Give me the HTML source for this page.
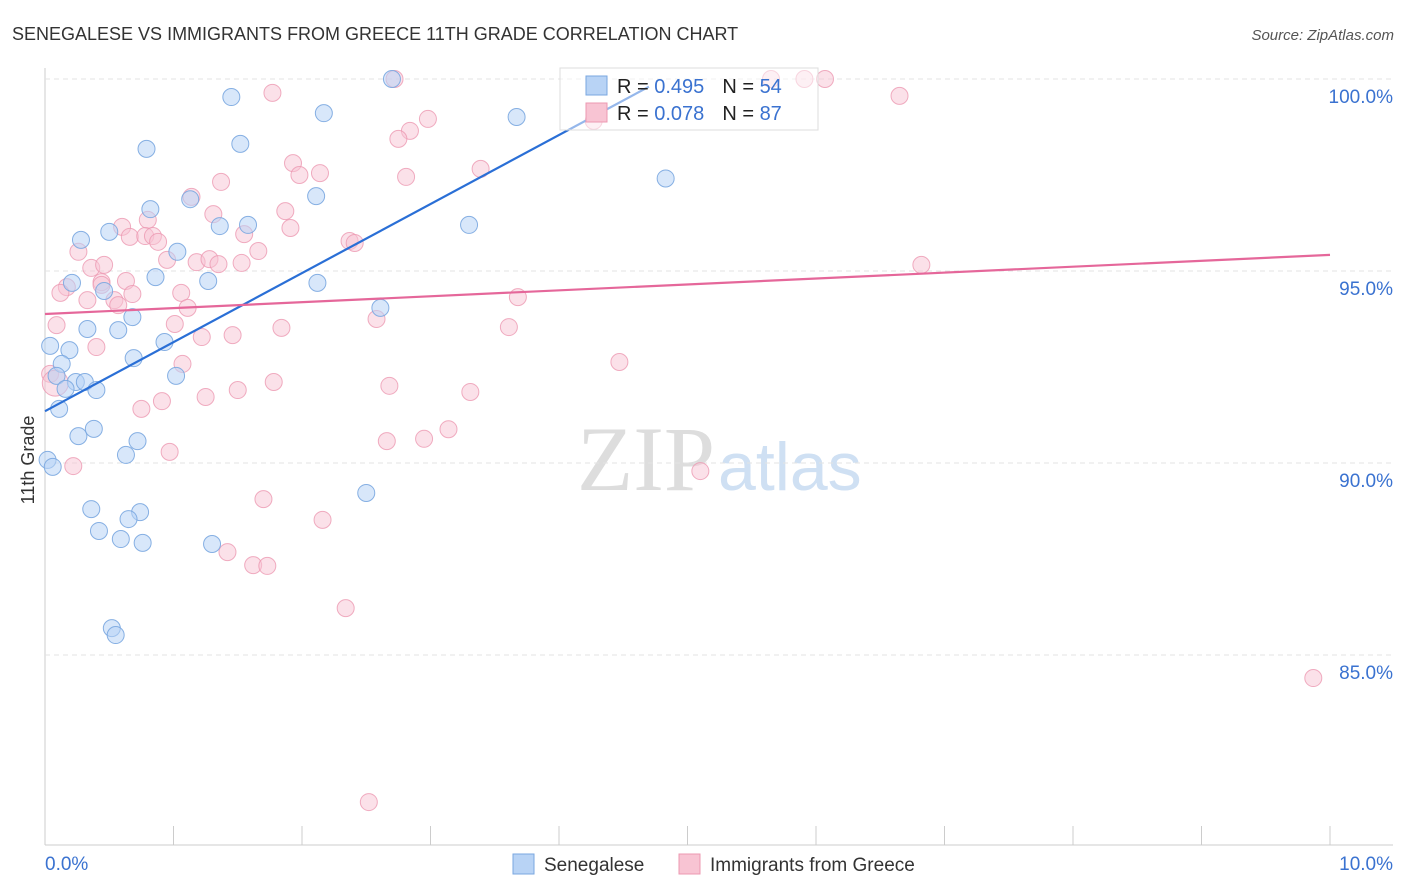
<!DOCTYPE html>
<html><head><meta charset="utf-8"><style>
body{margin:0;background:#fff;font-family:"Liberation Sans",sans-serif;}
svg{display:block}
</style></head><body>
<svg id="c" width="1406" height="892">
<text x="12" y="40" font-size="18" fill="#333">SENEGALESE VS IMMIGRANTS FROM GREECE 11TH GRADE CORRELATION CHART</text>
<text x="1394" y="40" font-size="15" fill="#555" font-style="italic" text-anchor="end">Source: ZipAtlas.com</text>
<text x="34" y="460" font-size="18" fill="#333" transform="rotate(-90 34 460)" text-anchor="middle">11th Grade</text>
<text x="715" y="490" font-size="92" fill="#ddd" text-anchor="end" font-family="Liberation Serif,serif">ZIP</text>
<text x="718" y="490" font-size="68" fill="#cfe0f3">atlas</text>
<g id="grid"></g><g id="pts"></g><g id="lines"></g>
<g>
<rect x="560" y="68" width="258" height="62" fill="#fff" fill-opacity="0.5" stroke="#ddd"/>
<rect x="586" y="76" width="21" height="19" fill="#b8d3f5" stroke="#7aa7e0"/>
<rect x="586" y="103" width="21" height="19" fill="#f8c4d3" stroke="#ec98b2"/>
<text x="617" y="93" font-size="20" fill="#222">R = <tspan fill="#3a72d0">0.495</tspan><tspan dx="18">N = </tspan><tspan fill="#3a72d0">54</tspan></text>
<text x="617" y="120" font-size="20" fill="#222">R = <tspan fill="#3a72d0">0.078</tspan><tspan dx="18">N = </tspan><tspan fill="#3a72d0">87</tspan></text>
</g>
<g>
<rect x="513" y="854" width="21" height="20" fill="#b8d3f5" stroke="#7aa7e0"/>
<text x="544" y="871" font-size="19" fill="#333">Senegalese</text>
<rect x="679" y="854" width="21" height="20" fill="#f8c4d3" stroke="#ec98b2"/>
<text x="710" y="871" font-size="19" fill="#333">Immigrants from Greece</text>
</g>
<text x="45" y="870" font-size="19" fill="#3a72d0">0.0%</text>
<text x="1393" y="870" font-size="19" fill="#3a72d0" text-anchor="end">10.0%</text>
</svg>
<script>
const yTicks=[100,95,90,85];
const xTicks=[0,1,2,3,4,5,6,7,8,9,10];
const blueX=[2.70,1.45,2.17,3.67,0.79,1.52,4.83,2.11,1.13,0.82,1.36,1.58,3.30,0.50,0.28,1.03,0.86,1.27,2.12,0.21,0.46,0.68,2.61,0.33,0.57,0.04,0.19,0.93,0.13,0.69,1.02,0.09,0.24,0.31,0.40,0.16,0.11,0.26,0.38,0.72,0.63,0.02,0.06,2.50,0.36,0.74,0.65,0.42,0.59,0.76,1.30,0.52,0.55];
const blueY=[100,99.53,99.11,99.01,98.18,98.31,97.41,96.95,96.87,96.61,96.17,96.20,96.20,96.02,95.81,95.50,94.84,94.74,94.69,94.69,94.48,93.80,94.04,93.49,93.46,93.05,92.94,93.15,92.58,92.73,92.27,92.27,92.11,92.11,91.90,91.93,91.41,90.70,90.89,90.57,90.21,90.08,89.90,89.22,88.80,88.72,88.54,88.23,88.02,87.92,87.89,85.70,85.52];
const pinkX=[2.72,5.65,5.91,6.07,1.77,6.65,2.98,2.84,2.75,4.27,1.93,3.39,2.14,1.98,2.81,1.37,1.14,1.87,1.31,0.80,0.60,1.91,1.55,0.66,0.78,0.84,0.88,2.37,2.41,0.26,1.66,0.95,1.18,1.28,1.35,1.53,0.36,0.46,6.82,0.63,0.44,0.17,0.12,0.68,1.06,0.44,0.54,0.33,0.57,1.11,3.68,0.09,1.01,2.58,3.61,1.84,1.46,1.22,0.40,4.47,1.07,0.04,1.78,2.68,1.50,1.25,3.31,0.91,0.75,3.14,2.95,2.66,0.97,5.10,0.22,1.70,2.16,1.42,1.62,1.73,2.34,9.87,2.52,0.08];
const pinkY=[100,100,100,100,99.64,99.56,98.96,98.65,98.44,98.91,97.81,97.66,97.55,97.50,97.45,97.32,96.93,96.56,96.48,96.33,96.15,96.12,95.96,95.89,95.91,95.91,95.76,95.78,95.73,95.50,95.52,95.29,95.23,95.31,95.18,95.21,95.08,95.16,95.16,94.74,94.71,94.58,94.43,94.40,94.43,94.64,94.24,94.24,94.11,94.04,94.32,93.59,93.62,93.75,93.54,93.52,93.33,93.28,93.02,92.63,92.58,92.32,92.11,92.01,91.90,91.72,91.85,91.61,91.41,90.88,90.63,90.57,90.29,89.79,89.92,89.06,88.52,87.68,87.34,87.32,86.22,84.40,81.17,92.08];
const blueTrend=[0,91.35,4.7,99.8];
const pinkTrend=[0,93.88,10,95.42];
const X=v=>45+v*128.5, Y=v=>79+(100-v)*38.4;
const ns="http://www.w3.org/2000/svg";
function mk(t,a,p){const e=document.createElementNS(ns,t);for(const k in a)e.setAttribute(k,a[k]);p.appendChild(e);return e;}
const g=document.getElementById('grid');
mk('line',{x1:45,y1:68,x2:45,y2:845,stroke:'#ccc'},g);
mk('line',{x1:45,y1:845,x2:1393,y2:845,stroke:'#ccc'},g);
yTicks.forEach(v=>{
 const l=mk('line',{x1:45,y1:Y(v),x2:1393,y2:Y(v),stroke:'#e3e3e3','stroke-dasharray':'5,4'},g);
 
 
 const t=mk('text',{x:1393,y:Y(v)+24,'font-size':19,fill:'#3a72d0','text-anchor':'end'},g);
 t.textContent=v.toFixed(1)+'%';
 
 
});
xTicks.forEach(v=>{
 const l=mk('line',{x1:X(v),y1:826,x2:X(v),y2:845,stroke:'#ccc'},g);
 
 
});
const p=document.getElementById('pts');
pinkX.forEach((x,i)=>{
 const c=mk('circle',{cx:X(x),cy:Y(pinkY[i]),r:(i==pinkX.length-1?13:8.5),fill:'#f8c4d3','fill-opacity':0.5,stroke:'#ec98b2','stroke-opacity':0.8},p);
 
 
});
blueX.forEach((x,i)=>{
 const c=mk('circle',{cx:X(x),cy:Y(blueY[i]),r:8.5,fill:'#b8d3f5','fill-opacity':0.55,stroke:'#7aa7e0','stroke-opacity':0.9},p);
 
 
});
const L=document.getElementById('lines');
const bl=mk('line',{x1:X(blueTrend[0]),y1:Y(blueTrend[1]),x2:X(blueTrend[2]),y2:Y(blueTrend[3]),stroke:'#2a6fd6','stroke-width':2.2},L);


const pl=mk('line',{x1:X(pinkTrend[0]),y1:Y(pinkTrend[1]),x2:X(pinkTrend[2]),y2:Y(pinkTrend[3]),stroke:'#e5679a','stroke-width':2.2},L);


</script>
</body></html>
